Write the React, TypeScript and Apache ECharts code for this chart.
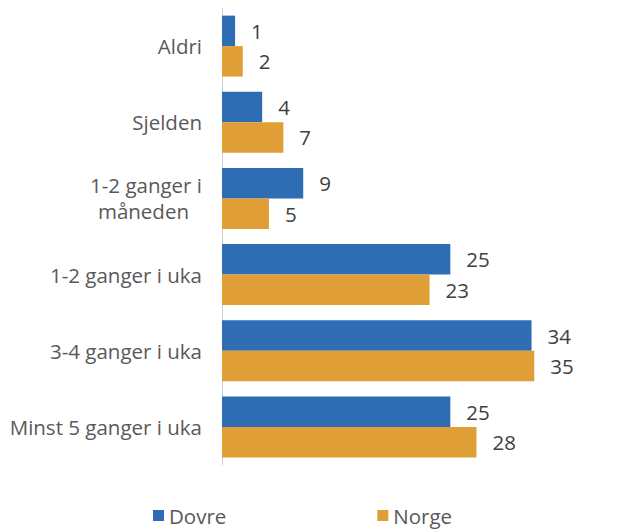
import React, { useEffect, useRef } from "react";
import * as echarts from "echarts";

const categories = [
  "Aldri",
  "Sjelden",
  "1-2 ganger i\nmåneden",
  "1-2 ganger i uka",
  "3-4 ganger i uka",
  "Minst 5 ganger i uka",
];
const dovre = [1.45, 4.45, 9.0, 25.3, 34.3, 25.3];
const norge = [2.3, 6.8, 5.2, 23.0, 34.6, 28.2];
const seriesNames = ["Dovre", "Norge"];

const FONT = "'Open Sans', sans-serif";
const FS = 20.5;

export default function App() {
  const ref = useRef<HTMLDivElement>(null);
  useEffect(() => {
    if (!ref.current) return;
    const chart = echarts.init(ref.current, null, { renderer: "svg" });
    const label = {
      show: true,
      position: "right",
      distance: 16,
      color: "#404040",
      fontSize: FS,
      fontFamily: FONT,
      formatter: (p: any) => String(Math.round(p.value)),
    };
    chart.setOption({
      animation: false,
      textStyle: { fontFamily: FONT },
      grid: { left: 222, right: 50, top: 8, bottom: 66, containLabel: false },
      legend: {
        data: seriesNames,
        left: 148,
        bottom: 0,
        itemWidth: 11,
        itemHeight: 11,
        itemGap: 151,
        icon: "rect",
        textStyle: { fontSize: FS, color: "#595959", fontFamily: FONT },
      },
      xAxis: {
        type: "value",
        min: 0,
        max: 40,
        show: false,
      },
      yAxis: {
        type: "category",
        data: categories,
        inverse: true,
        axisTick: { show: false },
        axisLine: { show: true, lineStyle: { color: "#d0d0d0", width: 1 } },
        axisLabel: {
          margin: 20,
          fontSize: FS,
          color: "#595959",
          fontFamily: FONT,
          lineHeight: 26,
          formatter: (v: string) => {
            const parts = v.split("\n");
            if (parts.length === 1) return v;
            return `{a|${parts[0]}}\n{b|${parts[1]}}`;
          },
          rich: {
            a: { fontSize: FS, color: "#595959", fontFamily: FONT, lineHeight: 26, align: "right" },
            b: { fontSize: FS, color: "#595959", fontFamily: FONT, lineHeight: 26, align: "right", padding: [0, 13, 0, 0] },
          },
        },
      },
      series: [
        {
          name: seriesNames[0],
          type: "bar",
          data: dovre,
          itemStyle: { color: "#2E6DB4" },
          barGap: "0%",
          barCategoryGap: "20%",
          label,
        },
        {
          name: seriesNames[1],
          type: "bar",
          data: norge,
          itemStyle: { color: "#E09F36" },
          barGap: "0%",
          barCategoryGap: "20%",
          label,
        },
      ],
    });
    return () => chart.dispose();
  }, []);
  return (
    <div
      ref={ref}
      style={{ position: "fixed", left: 0, top: 0, width: 633, height: 531, background: "#fff" }}
    />
  );
}
